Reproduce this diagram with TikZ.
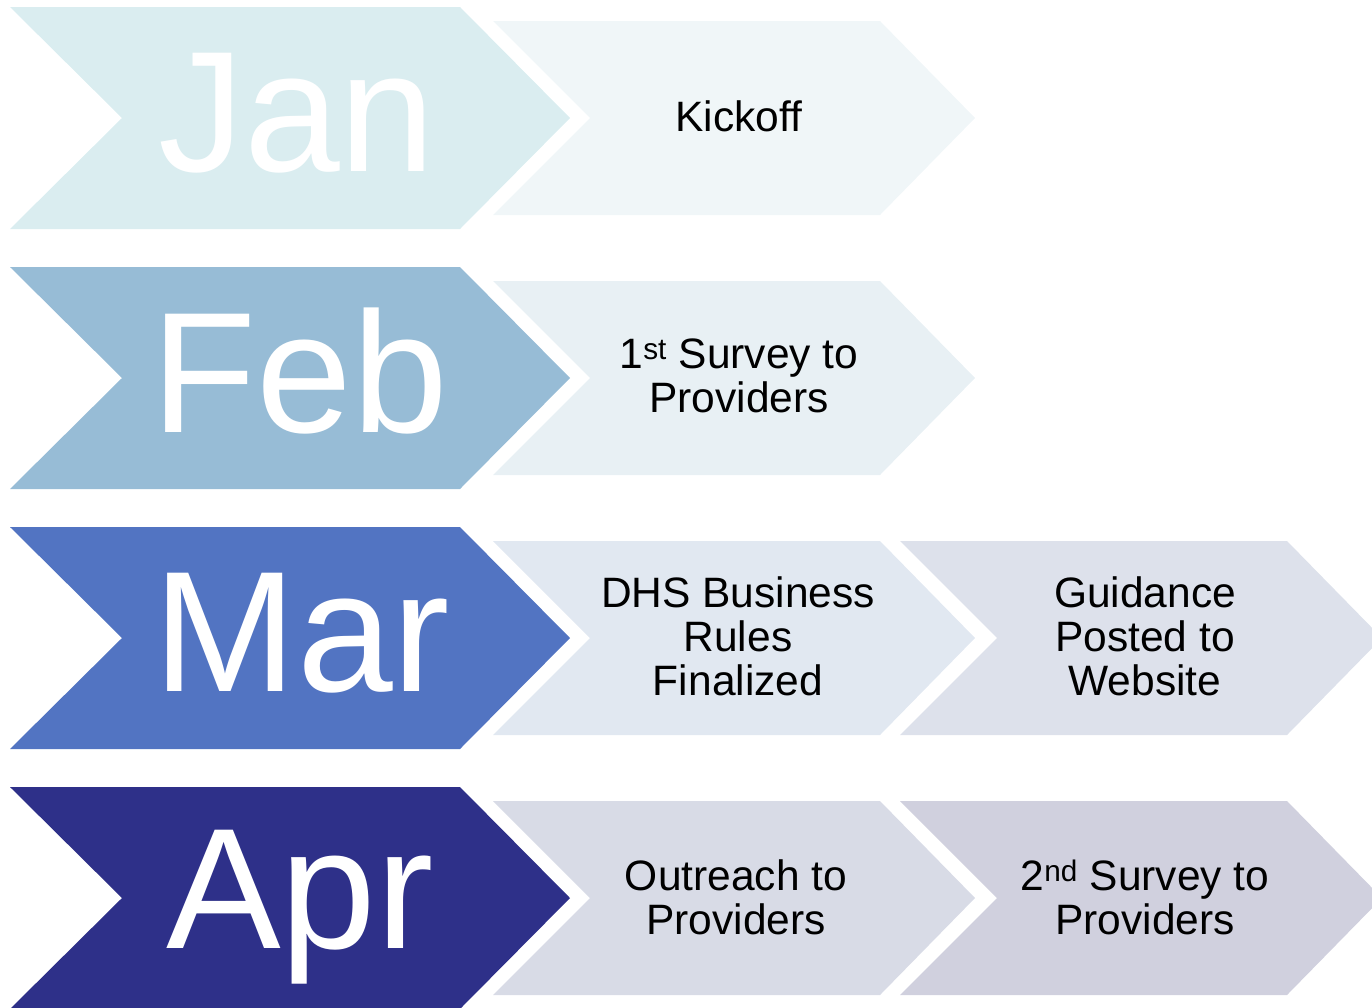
\documentclass[tikz,border=0pt]{standalone}
\usepackage{fontspec}
\setmainfont{Liberation Sans}
\definecolor{janB}{RGB}{218,237,240}
\definecolor{febB}{RGB}{151,188,214}
\definecolor{marB}{RGB}{82,116,194}
\definecolor{aprB}{RGB}{46,48,137}
\definecolor{janS}{RGB}{240,246,248}
\definecolor{febS}{RGB}{232,240,244}
\definecolor{marS}{RGB}{225,232,241}
\definecolor{marT}{RGB}{221,225,235}
\definecolor{aprS}{RGB}{216,219,230}
\definecolor{aprT}{RGB}{208,208,222}
\tikzset{
  month/.style={anchor=base, text=white, font=\fontsize{172}{180}\selectfont, inner sep=0pt},
  task/.style={align=center, text=black, font=\fontsize{42.5}{44}\selectfont, inner sep=0pt},
}
% big chevron: #1 = top y, #2 = colour
\newcommand{\bigchev}[2]{%
  \fill[#2] (10,#1) -- (460,#1) -- (570,#1+111) -- (460,#1+222) -- (10,#1+222) -- (122,#1+111) -- cycle;}
% small chevron: #1 = left x, #2 = top y, #3 = colour
\newcommand{\smallchev}[3]{%
  \fill[#3] (#1,#2) -- (#1+387,#2) -- (#1+482,#2+97) -- (#1+387,#2+194) -- (#1,#2+194) -- (#1+97,#2+97) -- cycle;}
\begin{document}
\begin{tikzpicture}[x=1pt,y=-1pt]
\useasboundingbox (0,0) rectangle (1372,1007);
\clip (0,0) rectangle (1372,1007);
% row 1
\bigchev{7}{janB}
\smallchev{493}{21}{janS}
\node[month] (jan) at (297,171) {Jan};
\node[task] (kickoff) at (739,116) {Kickoff};
% row 2
\bigchev{267}{febB}
\smallchev{493}{281}{febS}
\node[month] (feb) at (300,432) {Feb};
\node[task] (survey1) at (739,376) {1\textsuperscript{st} Survey to\\Providers};
% row 3
\bigchev{527}{marB}
\smallchev{493}{541}{marS}
\smallchev{900}{541}{marT}
\node[month] (mar) at (302,691) {Mar};
\node[task] (dhs) at (738,636) {DHS Business\\Rules\\Finalized};
\node[task] (guidance) at (1145,636) {Guidance\\Posted to\\Website};
% row 4
\bigchev{787}{aprB}
\smallchev{493}{801}{aprS}
\smallchev{900}{801}{aprT}
\node[month] (apr) at (300,948) {Apr};
\node[task] (outreach) at (736,897) {Outreach to\\Providers};
\node[task] (survey2) at (1145,897) {2\textsuperscript{nd} Survey to\\Providers};
\end{tikzpicture}
\end{document}
